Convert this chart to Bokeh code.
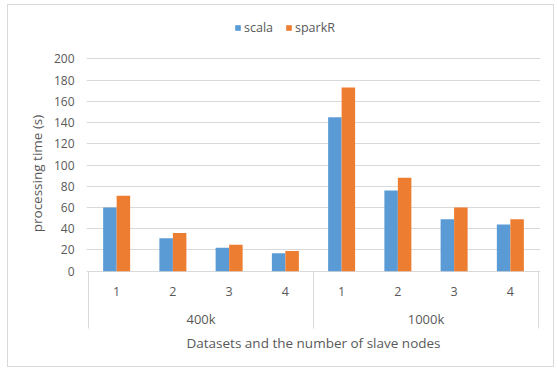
from bokeh.plotting import figure
from bokeh.models import (ColumnDataSource, FactorRange, Range1d, FixedTicker,
                          Legend, LegendItem, Title)
from bokeh.transform import dodge
from bokeh.core.properties import value
from bokeh.embed import file_html
from bokeh.resources import INLINE

# ---- data ----
datasets = ["400k", "1000k"]
nodes = ["1", "2", "3", "4"]
scala = [60, 31, 22, 17, 145, 76, 49, 44]
sparkR = [71, 36, 25, 19, 173, 88, 60, 49]
y_ticks = [0, 20, 40, 60, 80, 100, 120, 140, 160, 180, 200]
series_names = ["scala", "sparkR"]
colors = ["#5B9BD5", "#ED7D31"]
x_title = "Datasets and the number of slave nodes"
y_title = "processing time (s)"

FONT = "Open Sans"
TXT = "#595959"
GRID = "#d9d9d9"

factors = [(d, n) for d in datasets for n in nodes]
src = ColumnDataSource(dict(
    x=factors, scala=scala, sparkR=sparkR,
    node=[n for d in datasets for n in nodes],
))
grp_src = ColumnDataSource(dict(x=datasets, label=datasets))

p = figure(width=547, height=363,
           x_range=FactorRange(factors=factors, factor_padding=0, group_padding=0,
                               range_padding=0.009),
           y_range=Range1d(-56.8, 240.8),
           output_backend="svg", toolbar_location=None,
           min_border_left=78, min_border_right=15,
           min_border_top=10, min_border_bottom=37)
p.margin = (4, 0, 0, 7)
p.styles = {"border": "1px solid #d9d9d9"}
p.outline_line_color = None
p.background_fill_color = "white"
p.xaxis.visible = False
p.xgrid.visible = False

p.ygrid.ticker = FixedTicker(ticks=y_ticks)
p.ygrid.grid_line_color = GRID
p.yaxis.ticker = FixedTicker(ticks=y_ticks)
p.yaxis.bounds = (0, 200)
p.yaxis.axis_line_color = None
p.yaxis.major_tick_line_color = None
p.yaxis.minor_tick_line_color = None
p.yaxis.major_tick_out = 0
p.yaxis.major_label_standoff = 12
p.yaxis.major_label_text_font = FONT
p.yaxis.major_label_text_font_size = "12px"
p.yaxis.major_label_text_color = TXT
p.yaxis.axis_label = y_title
p.yaxis.axis_label_text_font = FONT
p.yaxis.axis_label_text_font_size = "13.5px"
p.yaxis.axis_label_text_font_style = "normal"
p.yaxis.axis_label_text_color = TXT
p.yaxis.axis_label_standoff = 5

bw = 0.24
r1 = p.vbar(x=dodge("x", -bw / 2, range=p.x_range), top="scala", width=bw,
            source=src, fill_color=colors[0], line_color=None)
r2 = p.vbar(x=dodge("x", bw / 2, range=p.x_range), top="sparkR", width=bw,
            source=src, fill_color=colors[1], line_color=None)

# category labels (two levels) drawn under the zero line
p.text(x="x", y=-19.1, text="node", source=src, text_font=value(FONT),
       text_font_size="12.5px", text_color=TXT, text_align="center",
       text_baseline="middle")
p.text(x="x", y=-44.6, text="label", source=grp_src, text_font=value(FONT),
       text_font_size="13px", text_color=TXT, text_align="center",
       text_baseline="middle")

# group separators
p.segment(x0=dodge("x", -2, range=p.x_range), y0=0,
          x1=dodge("x", -2, range=p.x_range), y1=-54,
          source=grp_src, line_color=GRID, line_width=1)
p.segment(x0=dodge("x", 2, range=p.x_range), y0=0,
          x1=dodge("x", 2, range=p.x_range), y1=-54,
          source=ColumnDataSource(dict(x=datasets[-1:])), line_color=GRID, line_width=1)

legend = Legend(items=[LegendItem(label=series_names[0], renderers=[r1]),
                       LegendItem(label=series_names[1], renderers=[r2])],
                location=(148, 295), orientation="horizontal",
                glyph_width=7, glyph_height=7, label_height=12,
                label_standoff=3, spacing=12, padding=0, margin=0,
                label_text_font=FONT, label_text_font_size="12.5px",
                label_text_color=TXT, border_line_color=None,
                background_fill_alpha=0)
p.add_layout(legend)

p.add_layout(Title(text=x_title, align="center", text_font=FONT,
                   text_font_size="13.5px", text_font_style="normal",
                   text_color=TXT, standoff=0), "below")

open("out.html", "w").write(file_html(p, INLINE))
